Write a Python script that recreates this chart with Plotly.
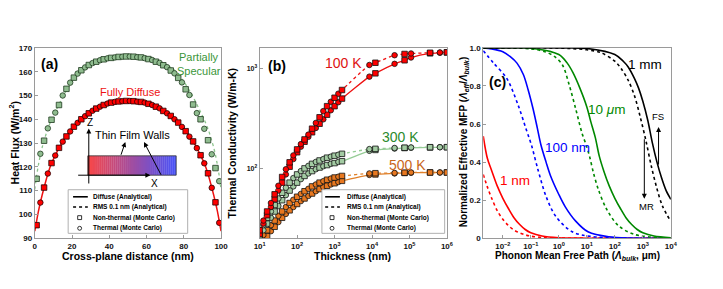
import plotly.graph_objects as go

W, H = 723, 289
def px(x): return x / W
def py(y): return 1 - y / H

FONT = "Liberation Sans, Arial, sans-serif"

# ---------------- Panel (a) data ----------------
a_x_line = [0, 0.5, 1, 2, 3, 4, 5, 7, 9, 11, 13, 16, 20, 25, 30, 35, 40, 45, 50,
            55, 60, 65, 70, 75, 80, 84, 87, 89, 91, 93, 95, 96, 97, 98, 99, 99.5, 100]
a_diffuse_line = [93, 95, 97.3, 101.5, 105, 108.3, 111.3, 117, 121.5, 124.8, 128, 131.8, 136, 140, 143, 145.3, 146.6, 147.4, 147.7,
                  147.4, 146.6, 145.3, 143, 140, 136, 131.8, 128, 124.8, 121.5, 117, 111.3, 108.3, 105, 101.5, 97.3, 95, 93]
a_specular_line = [110.5, 113.5, 116.3, 121, 125, 128.3, 131, 136, 139.8, 143, 146.3, 150.8, 155.8, 160.6, 163.2, 164.8, 165.7, 166.2, 166.4,
                   166.2, 165.7, 164.8, 163.2, 160.6, 155.8, 150.8, 146.3, 143, 139.8, 136, 131, 128.3, 125, 121, 116.3, 113.5, 110.5]

a_x_mc = [1, 3, 5, 7, 9, 11, 13, 15, 17, 19, 21, 23, 25, 27, 29, 31, 33, 35, 37, 39, 41, 43, 45, 47, 49,
          51, 53, 55, 57, 59, 61, 63, 65, 67, 69, 71, 73, 75, 77, 79, 81, 83, 85, 87, 89, 91, 93, 95, 97, 99]
a_diffuse_mc = [95.5, 105, 111.3, 117.2, 121.6, 124.8, 128, 130.6, 132.8, 134.9, 136.9, 138.5, 140, 141.3, 142.5, 143.6, 144.5, 145.3, 146, 146.6, 147, 147.3, 147.5, 147.6, 147.7,
                147.7, 147.6, 147.4, 147.3, 147, 146.5, 146, 145.3, 144.6, 143.5, 142.5, 141.4, 140, 138.6, 136.8, 135, 132.7, 130.7, 127.9, 124.9, 121.5, 117.3, 111.2, 105.1, 96.5]
a_specular_mc = [115, 125.5, 131, 136.2, 139.8, 142.8, 146, 150, 152.8, 155.4, 157.5, 159.2, 160.6, 161.8, 162.8, 163.6, 164.2, 164.8, 165.2, 165.6, 165.8, 166, 166.2, 166.3, 166.4,
                 166.4, 166.3, 166.1, 166, 165.7, 165.3, 164.9, 164.2, 163.7, 162.7, 161.9, 160.5, 159.3, 157.4, 155.5, 152.6, 150.2, 146.2, 142.6, 140, 136, 131.2, 125.3, 119.5, 114]
a_symbols = ["square", "circle"] * 25

# ---------------- Panel (b) data ----------------
b_thickness = [10, 12.6, 15.8, 20, 25.1, 31.6, 39.8, 50.1, 63.1, 79.4, 100, 126, 158, 200, 251, 316, 398, 501, 631, 794,
               1000, 1260, 1580, 8500, 12300, 40000, 74000, 110000, 355000, 650000, 1000000]
b_100K_diffuse = [22, 28, 34, 41, 49, 60, 72, 87, 104, 124, 145, 165, 185, 207, 230, 254, 280, 310, 345, 382,
                  420, 460, 500, 830, 895, 1115, 1210, 1290, 1420, 1440, 1450]
b_100K_rms = [24, 30, 37, 45, 55, 67, 82, 98, 115, 135, 155, 175, 195, 218, 250, 285, 325, 375, 420, 465,
              510, 560, 610, 1086, 1143, 1360, 1400, 1415, 1440, 1450, 1455]
b_300K_diffuse = [20, 24, 28, 32, 37, 42, 48, 54, 60, 66, 72, 78, 84, 89, 94, 98, 102, 105, 108, 111,
                  113, 116, 118, 150, 153, 158, 160, 161, 162, 163, 163]
b_300K_rms = [22, 27, 32, 37, 43, 50, 57, 64, 72, 80, 87, 94, 100, 106, 111, 116, 120, 124, 128, 131,
              134, 137, 140, 156, 157, 160, 161, 162, 163, 163, 163]
b_500K_diffuse = [17, 19, 21, 23.5, 26, 29, 32, 35, 38, 41, 44, 47, 50, 53, 56, 59, 62, 65, 67, 69,
                  71, 73, 75, 86, 87, 89, 90, 90.5, 91, 91, 91]
b_500K_rms = [19, 21.5, 24, 27, 30, 33.5, 37, 41, 45, 48.5, 52, 55.5, 59, 62.5, 66, 69, 72, 74.5, 77, 79,
              81, 82.5, 84, 89, 89.5, 90, 90.5, 91, 91, 91, 91]
b_symbols = (["square", "circle"] * 16)[:31]
b_xticks = [10, 100, 1000, 10000, 100000, 1000000]
b_xticktext = ["10<sup>1</sup>", "10<sup>2</sup>", "10<sup>3</sup>", "10<sup>4</sup>", "10<sup>5</sup>", "10<sup>6</sup>"]

# ---------------- Panel (c) data ----------------
c_1nm_fs_x = [0.002, 0.0028, 0.004, 0.0063, 0.01, 0.016, 0.025, 0.04, 0.063, 0.1, 0.25, 1, 10, 10000]
c_1nm_fs_y = [0.536, 0.42, 0.355, 0.275, 0.21, 0.155, 0.108, 0.072, 0.046, 0.029, 0.012, 0.003, 0.0003, 0.0]
c_1nm_mr_x = [0.002, 0.0028, 0.004, 0.0063, 0.01, 0.016, 0.025, 0.04, 0.063, 0.1, 0.25, 1, 10, 10000]
c_1nm_mr_y = [0.335, 0.27, 0.21, 0.145, 0.1, 0.066, 0.043, 0.028, 0.018, 0.011, 0.004, 0.001, 0.0001, 0.0]
c_100nm_fs_x = [0.002, 0.004, 0.01, 0.018, 0.032, 0.054, 0.08, 0.12, 0.17, 0.23, 0.35, 0.5, 1.0, 1.7, 4, 11, 60, 10000]
c_100nm_fs_y = [1.0, 0.995, 0.98, 0.955, 0.92, 0.86, 0.78, 0.68, 0.58, 0.49, 0.40, 0.33, 0.23, 0.165, 0.09, 0.034, 0.008, 0.0]
c_100nm_mr_x = [0.002, 0.0047, 0.0138, 0.035, 0.069, 0.105, 0.18, 0.35, 0.78, 3, 15, 10000]
c_100nm_mr_y = [0.985, 0.92, 0.84, 0.7, 0.57, 0.49, 0.36, 0.22, 0.115, 0.034, 0.009, 0.0]
c_10um_fs_x = [0.002, 0.1, 1, 2, 3.2, 5.6, 10, 14, 20, 28, 40, 63, 100, 160, 250, 400, 630, 1000, 2500, 10000]
c_10um_fs_y = [1.0, 0.998, 0.965, 0.92, 0.87, 0.79, 0.69, 0.61, 0.53, 0.43, 0.355, 0.275, 0.21, 0.155, 0.108, 0.072, 0.046, 0.029, 0.012, 0.003]
c_10um_mr_x = [0.002, 0.1, 0.32, 0.7, 1.35, 2.3, 4, 6.8, 10, 13, 17.5, 26, 50, 130, 500, 10000]
c_10um_mr_y = [1.0, 0.995, 0.98, 0.955, 0.91, 0.81, 0.68, 0.55, 0.48, 0.42, 0.34, 0.255, 0.155, 0.068, 0.02, 0.001]
c_1mm_fs_x = [0.002, 1, 10, 100, 200, 300, 500, 700, 1000, 1500, 2200, 3200, 4600, 6800, 10000]
c_1mm_fs_y = [1.0, 1.0, 0.997, 0.965, 0.93, 0.9, 0.84, 0.79, 0.72, 0.62, 0.5, 0.4, 0.32, 0.25, 0.205]
c_1mm_mr_x = [0.002, 1, 10, 32, 100, 170, 300, 500, 800, 1300, 2000, 3200, 5000, 10000]
c_1mm_mr_y = [1.0, 0.999, 0.99, 0.975, 0.93, 0.89, 0.83, 0.75, 0.64, 0.51, 0.38, 0.26, 0.17, 0.088]
c_xticks = [0.01, 0.1, 1, 10, 100, 1000, 10000]
c_xticktext = ["10<sup>−2</sup>", "10<sup>−1</sup>", "10<sup>0</sup>", "10<sup>1</sup>", "10<sup>2</sup>", "10<sup>3</sup>", "10<sup>4</sup>"]
c_yticks = [0, 0.2, 0.4, 0.6, 0.8, 1.0]
c_yticktext = ["0", "0.2", "0.4", "0.6", "0.8", "1.0"]

# ---------------- colours ----------------
RED = "#ee1111"
GREEN_A_LINE = "#8cc48c"
GREEN_A_FILL = "#8fbc8f"
G300_LINE = "#96cc96"
G300_FILL = "#a3cba3"
OR_LINE = "#e0802a"
OR_FILL = "#e87820"

fig = go.Figure()

# Panel (a)
fig.add_trace(go.Scatter(x=a_x_line, y=a_specular_line, mode="lines", xaxis="x", yaxis="y",
                         line=dict(color=GREEN_A_LINE, width=1.3, dash="dot", shape="spline", smoothing=0.8)))
fig.add_trace(go.Scatter(x=a_x_line, y=a_diffuse_line, mode="lines", xaxis="x", yaxis="y",
                         line=dict(color=RED, width=1.5, shape="spline", smoothing=0.8)))
fig.add_trace(go.Scatter(x=a_x_mc, y=a_specular_mc, mode="markers", xaxis="x", yaxis="y",
                         marker=dict(symbol=a_symbols, size=5.5, color=GREEN_A_FILL, line=dict(color="#1e3a1e", width=0.8))))
fig.add_trace(go.Scatter(x=a_x_mc, y=a_diffuse_mc, mode="markers", xaxis="x", yaxis="y",
                         marker=dict(symbol=a_symbols, size=5.5, color="#ff0000", line=dict(color="#220000", width=0.8))))

# Panel (b)
for ys, lc, fc, dash in [
    (b_500K_diffuse, OR_LINE, OR_FILL, "solid"), (b_500K_rms, OR_LINE, OR_FILL, "dot"),
    (b_300K_diffuse, G300_LINE, G300_FILL, "solid"), (b_300K_rms, G300_LINE, G300_FILL, "dot"),
    (b_100K_diffuse, RED, "#ff0000", "solid"), (b_100K_rms, RED, "#ff0000", "dot"),
]:
    fig.add_trace(go.Scatter(x=b_thickness, y=ys, mode="lines+markers", xaxis="x2", yaxis="y2",
                             line=dict(color=lc, width=1.3, dash=dash, shape="spline", smoothing=0.6),
                             marker=dict(symbol=b_symbols, size=5.5, color=fc, line=dict(color="#111", width=0.8))))

# Panel (c)
for xs, ys, col, dash in [
    (c_1nm_mr_x, c_1nm_mr_y, "#ff0000", "dot"), (c_1nm_fs_x, c_1nm_fs_y, "#ff0000", "solid"),
    (c_100nm_mr_x, c_100nm_mr_y, "#0000ff", "dot"), (c_100nm_fs_x, c_100nm_fs_y, "#0000ff", "solid"),
    (c_10um_mr_x, c_10um_mr_y, "#008800", "dot"), (c_10um_fs_x, c_10um_fs_y, "#008800", "solid"),
    (c_1mm_mr_x, c_1mm_mr_y, "#000000", "dot"), (c_1mm_fs_x, c_1mm_fs_y, "#000000", "solid"),
]:
    fig.add_trace(go.Scatter(x=xs, y=ys, mode="lines", xaxis="x3", yaxis="y3",
                             line=dict(color=col, width=1.6, dash=dash, shape="spline", smoothing=0.9)))

YDOM = [py(241.8), py(45.3)]
axcommon = dict(showline=True, linecolor="#9a9a9a", linewidth=1, mirror=True, ticks="inside",
                ticklen=3, tickcolor="#9a9a9a", showgrid=False, zeroline=False,
                tickfont=dict(family=FONT, size=8, color="#111", weight="bold"))

fig.update_layout(
    width=W, height=H, margin=dict(l=0, r=0, t=0, b=0),
    paper_bgcolor="white", plot_bgcolor="white", showlegend=False,
    font=dict(family=FONT),
    xaxis=dict(domain=[px(29.3), px(219)], range=[0, 100], tickvals=[0, 20, 40, 60, 80, 100], anchor="y", **axcommon),
    yaxis=dict(domain=YDOM, range=[90, 170], tickvals=list(range(90, 171, 10)), anchor="x", **axcommon),
    xaxis2=dict(domain=[px(258.3), px(449)], type="log", range=[1, 6], tickvals=b_xticks, ticktext=b_xticktext,
                anchor="y2", **axcommon),
    yaxis2=dict(domain=YDOM, type="log", range=[1.3, 3.207], tickvals=[100, 1000],
                ticktext=["10<sup>2</sup>", "10<sup>3</sup>"], anchor="x2",
                **{k: v for k, v in axcommon.items() if k != "tickfont"},
                tickfont=dict(family=FONT, size=7, color="#111", weight="bold")),
    xaxis3=dict(domain=[px(486), px(677)], type="log", range=[-2.699, 4], tickvals=c_xticks, ticktext=c_xticktext,
                anchor="y3", **axcommon),
    yaxis3=dict(domain=YDOM, range=[0, 1.0], tickvals=c_yticks, ticktext=c_yticktext, anchor="x3", **axcommon),
)

ann = []
shapes = []

def text(x, y, s, size, color="#000", bold=False, angle=0, xanchor="center"):
    ann.append(dict(x=px(x), y=py(y), xref="paper", yref="paper", text=s, showarrow=False,
                    xanchor=xanchor, yanchor="middle", textangle=angle,
                    font=dict(family=FONT, size=size, color=color, weight="bold" if bold else "normal")))

def arrow(hx, hy, tx, ty, width=1):
    ann.append(dict(x=px(hx), y=py(hy), xref="paper", yref="paper", text="", showarrow=True,
                    ax=tx - hx, ay=ty - hy, arrowhead=2, arrowsize=1, arrowwidth=width, arrowcolor="#000"))

# axis titles
text(124, 260, "Cross-plane distance (nm)", 10.5, bold=True)
text(8, 143, "Heat Flux (W/m<sup>2</sup>)", 10.5, bold=True, angle=-90)
text(353, 260, "Thickness (nm)", 10.5, bold=True)
text(230, 143, "Thermal Conductivity (W/m-K)", 10.5, bold=True, angle=-90)
text(582, 260, "Phonon Mean Free Path (<i>Λ<sub>bulk</sub></i>, μm)", 10, bold=True)
text(466, 143, "Normalized Effective MFP (<i>Λ<sub>eff</sub></i>/<i>Λ<sub>bulk</sub></i>)", 10, bold=True, angle=-90)

# panel labels
text(44, 62, "(a)", 14, bold=True)
text(276, 64, "(b)", 14, bold=True)
text(501, 81, "(c)", 14, bold=True)

# panel (a) annotations
text(197, 55, "Partially", 11, color="#3a963a")
text(197, 69, "Specular", 11, color="#3a963a")
text(126, 91, "Fully Diffuse", 11, color="#ee1111")

# inset: gradient film
x0, x1, y0, y1 = 83.3, 173.3, 156.7, 176.7
N = 45
c0, c1 = (250, 72, 72), (72, 84, 250)
for i in range(N):
    f = (i + 0.5) / N
    col = "rgb(%d,%d,%d)" % tuple(int(c0[k] + (c1[k] - c0[k]) * f) for k in range(3))
    xa = x0 + (x1 - x0) * i / N
    xb = x0 + (x1 - x0) * (i + 1) / N + 0.3
    shapes.append(dict(type="rect", xref="paper", yref="paper", x0=px(xa), x1=px(min(xb, x1)),
                       y0=py(y1), y1=py(y0), fillcolor=col, line=dict(width=0), layer="above"))
shapes.append(dict(type="rect", xref="paper", yref="paper", x0=px(x0), x1=px(x1), y0=py(y1), y1=py(y0),
                   line=dict(color="#333", width=0.8)))
arrow(84.3, 128.5, 84.3, 185)
arrow(147, 176.7, 73.3, 176.7)
arrow(121.5, 142.5, 116.7, 156.7)
arrow(140.5, 142.5, 158.3, 176.7)
text(86, 122.5, "Z", 10)
text(151, 185, "X", 10)
text(128.5, 135.5, "Thin Film Walls", 11)

# panel (b) annotations
text(344, 61, "100 K", 14, color="#dd1111")
text(402, 137.5, "300 K", 14, color="#2c8a2c")
text(409, 166, "500 K", 14, color="#c8661a")

# panel (c) annotations
text(651, 62, "1 mm", 13.5)
text(612, 109, "10 <i>μ</i>m", 13.5, color="#008800")
text(572, 148, "100 nm", 13.5, color="#0000ff")
text(518, 182, "1 nm", 13.5, color="#ff0000")
text(664, 116, "FS", 9.5)
text(652, 208.5, "MR", 9.5)
arrow(664.5, 127, 664.5, 166)
arrow(650, 201, 650, 140)

# legends
def legend(bx0, by0, bx1, by1, lx0, lx1, sx, tx):
    shapes.append(dict(type="rect", xref="paper", yref="paper", x0=px(bx0), x1=px(bx1), y0=py(by1), y1=py(by0),
                       fillcolor="white", line=dict(color="#b0b0b0", width=1), layer="above"))
    rows = [199, 209.5, 220.5, 231.5]
    shapes.append(dict(type="line", xref="paper", yref="paper", x0=px(lx0), x1=px(lx1), y0=py(rows[0]), y1=py(rows[0]),
                       line=dict(color="#000", width=1.6)))
    shapes.append(dict(type="line", xref="paper", yref="paper", x0=px(lx0), x1=px(lx1), y0=py(rows[1]), y1=py(rows[1]),
                       line=dict(color="#000", width=1.6, dash="dot")))
    s = 2.0
    shapes.append(dict(type="rect", xref="paper", yref="paper", x0=px(sx - s), x1=px(sx + s),
                       y0=py(rows[2] + s), y1=py(rows[2] - s), line=dict(color="#000", width=0.8)))
    shapes.append(dict(type="circle", xref="paper", yref="paper", x0=px(sx - s), x1=px(sx + s),
                       y0=py(rows[3] + s), y1=py(rows[3] - s), line=dict(color="#000", width=0.8)))
    labels = ["Diffuse (Analytical)", "RMS 0.1 nm (Analytical)", "Non-thermal (Monte Carlo)", "Thermal (Monte Carlo)"]
    for r, l in zip(rows, labels):
        text(tx, r, l, 6.5, bold=True, xanchor="left")

legend(63.3, 191.7, 185, 236.7, 68.3, 83.3, 75, 86.5)
legend(321.7, 191.7, 446.7, 236.7, 325, 340, 332, 345.5)

fig.update_layout(annotations=ann, shapes=shapes)
fig.write_html("out.html", config={"displayModeBar": False},
               post_script="document.body.style.margin='0px';")
